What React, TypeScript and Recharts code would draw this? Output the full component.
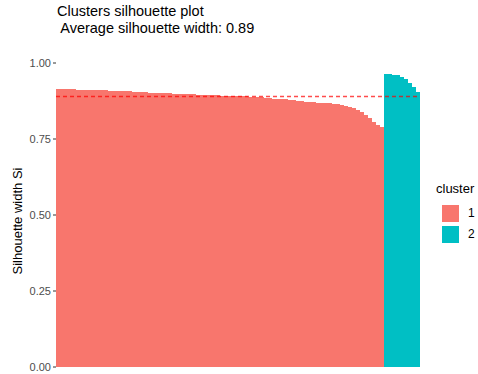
import React from 'react';
import { BarChart, Bar, Cell, XAxis, YAxis, ReferenceLine } from 'recharts';

// silhouette widths, sorted within each cluster
const cluster1Widths = [
  0.915, 0.914, 0.914, 0.914, 0.913,
  0.912, 0.912, 0.911, 0.911, 0.911, 0.910, 0.910, 0.910,
  0.909, 0.908, 0.908, 0.908, 0.907, 0.907,
  0.906, 0.905, 0.904,
  0.903, 0.902, 0.902, 0.901, 0.901, 0.900, 0.900,
  0.899, 0.899, 0.898, 0.898, 0.897, 0.897, 0.896, 0.896,
  0.895, 0.895, 0.894, 0.894, 0.893,
  0.892, 0.892, 0.891, 0.891, 0.890, 0.890, 0.889,
  0.888, 0.887, 0.887, 0.886,
  0.884, 0.883, 0.882, 0.881, 0.880,
  0.878, 0.877, 0.875, 0.874, 0.873,
  0.872, 0.871, 0.870, 0.869, 0.868,
  0.867, 0.866, 0.865, 0.863,
  0.858, 0.855, 0.852,
  0.846, 0.840,
  0.828, 0.818, 0.806,
  0.797, 0.789,
];
const cluster2Widths = [0.964, 0.963, 0.962, 0.960, 0.955, 0.947, 0.935, 0.922, 0.903];

const clusterNames = ['1', '2'];
const clusterColors = ['#F8766D', '#00BFC4'];
const yTicks = [0, 0.25, 0.5, 0.75, 1];
const averageWidth = 0.89;

const data = [
  ...cluster1Widths.map((w, i) => ({ id: i + 1, sil_width: w, cluster: 0 })),
  ...cluster2Widths.map((w, i) => ({ id: cluster1Widths.length + i + 1, sil_width: w, cluster: 1 })),
];

const font = '"Liberation Sans", Arial, sans-serif';

export default function App() {
  return (
    <div style={{ position: 'absolute', left: 0, top: 0, width: 478, height: 374, background: '#fff', fontFamily: font }}>
      <div style={{ position: 'absolute', left: 57, top: 3, fontSize: 14.5, lineHeight: '17px', color: '#000', whiteSpace: 'pre' }}>
        {'Clusters silhouette plot\n Average silhouette width: ' + averageWidth.toFixed(2)}
      </div>
      <div
        style={{
          position: 'absolute', left: 17, top: 221, fontSize: 13, color: '#000', whiteSpace: 'nowrap',
          transform: 'translate(-50%, -50%) rotate(-90deg)',
        }}
      >
        Silhouette width Si
      </div>
      <BarChart
        width={478}
        height={374}
        data={data}
        margin={{ top: 63, right: 58, bottom: 7, left: 0 }}
        barCategoryGap={0}
        barGap={0}
      >
        <XAxis dataKey="id" hide />
        <YAxis
          width={56}
          domain={[0, 1]}
          ticks={yTicks}
          tickFormatter={(v: number) => v.toFixed(2)}
          axisLine={false}
          tickLine={{ stroke: '#333333' }}
          tickSize={3}
          tickMargin={2}
          tick={{ fill: '#4D4D4D', fontSize: 11, fontFamily: font }}
        />
        <Bar dataKey="sil_width" isAnimationActive={false} shapeRendering="crispEdges">
          {data.map((d) => (
            <Cell key={d.id} fill={clusterColors[d.cluster]} />
          ))}
        </Bar>
        <ReferenceLine y={averageWidth} stroke="#FF0000" strokeOpacity={0.7} strokeWidth={1.4} strokeDasharray="4 3" />
      </BarChart>
      <div style={{ position: 'absolute', left: 436, top: 181, fontSize: 13, color: '#000' }}>cluster</div>
      {clusterNames.map((name, i) => (
        <div key={name} style={{ position: 'absolute', left: 441, top: 204 + i * 21 }}>
          <div style={{ width: 19, height: 19, background: clusterColors[i], border: '1px solid #fff', boxSizing: 'border-box' }} />
          <div style={{ position: 'absolute', left: 27, top: 2, fontSize: 12, color: '#000' }}>{name}</div>
        </div>
      ))}
    </div>
  );
}
